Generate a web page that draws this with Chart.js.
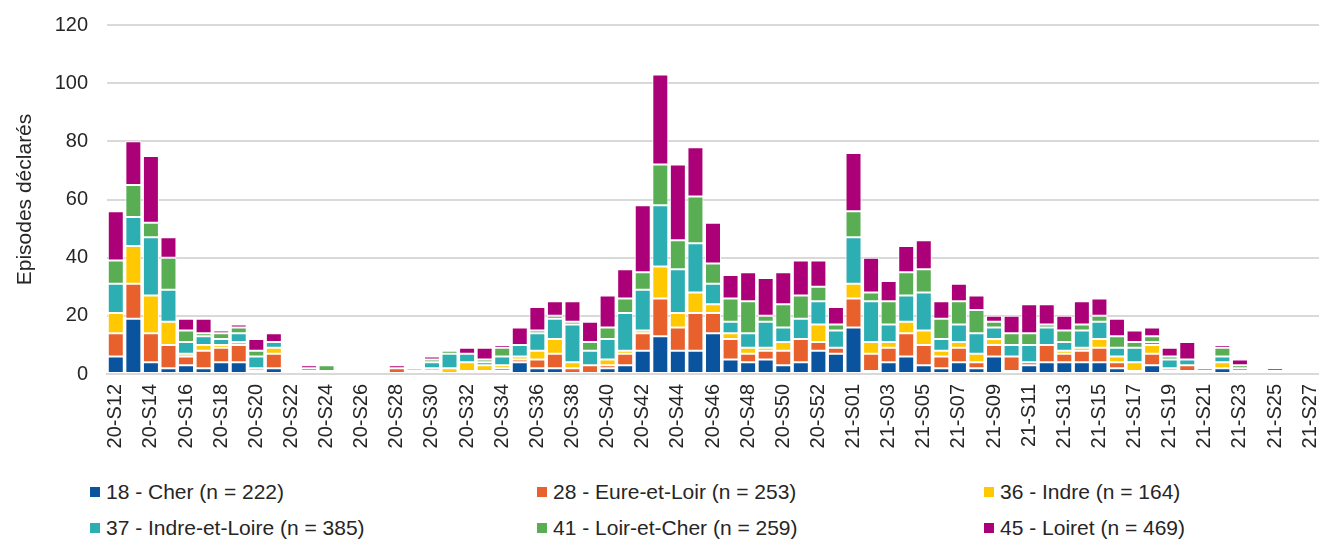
<!DOCTYPE html>
<html lang="fr">
<head>
<meta charset="utf-8">
<title>Episodes déclarés par semaine</title>
<script src="https://cdn.jsdelivr.net/npm/chart.js@4.4.1/dist/chart.umd.min.js"></script>
<style>
    html, body { margin: 0; padding: 0; background: #fff; }
    #wrap { position: relative; width: 1319px; height: 539px; overflow: hidden; }
    #chartBox { position: absolute; left: 0; top: 0; width: 1319px; height: 465px; }
    #legend {
        position: absolute; left: 90px; top: 480px;
        display: grid; grid-template-columns: 447px 447px 335px; row-gap: 12px;
        font-family: "Liberation Sans", Arial, sans-serif; font-size: 21px; color: #262626;
    }
    .item { display: flex; align-items: center; height: 24px; white-space: nowrap; }
    .box { width: 10px; height: 10px; margin-right: 6px; }
</style>
</head>
<body>
<div id="wrap">
    <div id="chartBox"><canvas id="weeklyChart"></canvas></div>
    <div id="legend"></div>
</div>
<script>
const weeks = [
    '20-S12', '20-S13', '20-S14', '20-S15', '20-S16', '20-S17', '20-S18', '20-S19', '20-S20', '20-S21',
    '20-S22', '20-S23', '20-S24', '20-S25', '20-S26', '20-S27', '20-S28', '20-S29', '20-S30', '20-S31',
    '20-S32', '20-S33', '20-S34', '20-S35', '20-S36', '20-S37', '20-S38', '20-S39', '20-S40', '20-S41',
    '20-S42', '20-S43', '20-S44', '20-S45', '20-S46', '20-S47', '20-S48', '20-S49', '20-S50', '20-S51',
    '20-S52', '20-S53', '21-S01', '21-S02', '21-S03', '21-S04', '21-S05', '21-S06', '21-S07', '21-S08',
    '21-S09', '21-S10', '21-S11', '21-S12', '21-S13', '21-S14', '21-S15', '21-S16', '21-S17', '21-S18',
    '21-S19', '21-S20', '21-S21', '21-S22', '21-S23', '21-S24', '21-S25', '21-S26', '21-S27'
];

const departments = [
    '18 - Cher (n = 222)',
    '28 - Eure-et-Loir (n = 253)',
    '36 - Indre (n = 164)',
    '37 - Indre-et-Loire (n = 385)',
    '41 - Loir-et-Cher (n = 259)',
    '45 - Loiret (n = 469)'
];

const cher = [
    6, 19, 4, 2, 3, 2, 4, 4, 0, 2, 0, 0, 0, 0, 1, 0, 0, 0, 1, 0,
    0, 0, 1, 4, 2, 2, 0, 0, 2, 3, 8, 13, 8, 8, 14, 5, 4, 5, 3, 4,
    8, 7, 16, 1, 4, 6, 3, 2, 4, 2, 6, 1, 3, 4, 4, 4, 4, 2, 0, 3,
    0, 1, 0, 2, 1, 0, 0, 0, 0
];
const eureEtLoir = [
    8, 12, 10, 8, 3, 6, 5, 6, 1, 5, 1, 0, 0, 0, 0, 0, 2, 1, 0, 0,
    1, 1, 1, 1, 3, 5, 2, 3, 1, 4, 6, 13, 8, 13, 7, 7, 3, 3, 5, 8,
    3, 2, 10, 6, 5, 8, 7, 4, 5, 2, 4, 5, 1, 6, 3, 4, 5, 2, 1, 4,
    1, 2, 0, 0, 0, 0, 0, 0, 0
];
const indre = [
    7, 13, 13, 8, 1, 2, 1, 1, 1, 2, 0, 1, 1, 0, 0, 1, 0, 1, 1, 2,
    3, 2, 1, 1, 3, 5, 2, 0, 2, 1, 1, 11, 5, 7, 3, 2, 2, 1, 3, 0,
    6, 0, 5, 4, 2, 4, 5, 2, 2, 3, 2, 0, 0, 0, 1, 1, 3, 2, 3, 3,
    1, 0, 1, 2, 0, 0, 1, 0, 0
];
const indreEtLoire = [
    10, 10, 20, 11, 4, 3, 2, 3, 4, 2, 0, 0, 0, 0, 0, 0, 0, 0, 2, 5,
    3, 1, 3, 4, 6, 7, 13, 5, 7, 13, 14, 21, 15, 17, 7, 4, 5, 9, 5, 7,
    8, 6, 16, 14, 6, 9, 13, 4, 6, 7, 4, 4, 6, 6, 3, 6, 6, 3, 5, 1,
    3, 2, 1, 2, 1, 1, 0, 0, 0
];
const loirEtCher = [
    8, 11, 5, 11, 4, 1, 2, 2, 2, 0, 0, 1, 2, 0, 0, 0, 0, 0, 1, 1,
    0, 1, 3, 0, 1, 1, 1, 3, 4, 5, 6, 14, 10, 16, 7, 8, 11, 2, 8, 8,
    5, 2, 9, 3, 8, 8, 8, 7, 8, 8, 2, 4, 4, 1, 4, 2, 2, 4, 2, 2,
    1, 0, 0, 3, 1, 0, 0, 0, 1
];
const loiret = [
    17, 15, 23, 7, 4, 5, 1, 1, 4, 3, 0, 1, 0, 0, 0, 0, 1, 0, 1, 0,
    2, 4, 1, 6, 8, 5, 7, 7, 11, 10, 23, 31, 26, 17, 14, 8, 10, 13, 11, 12,
    9, 6, 20, 12, 7, 9, 10, 6, 6, 5, 2, 6, 10, 7, 5, 8, 6, 6, 4, 3,
    3, 6, 0, 1, 2, 0, 1, 0, 0
];

const series = [cher, eureEtLoir, indre, indreEtLoire, loirEtCher, loiret];
const colors = ['#0a539e', '#e8602c', '#ffc800', '#2caeb2', '#59ad53', '#ab0078'];
const yTicks = [0, 20, 40, 60, 80, 100, 120];

const FONT = '"Liberation Sans", Arial, sans-serif';
const TEXT = '#262626';

document.addEventListener('DOMContentLoaded', () => {
    initChart();
    buildLegend();
});

function initChart() {
    const ctx = document.getElementById('weeklyChart');
    new Chart(ctx, {
        type: 'bar',
        data: {
            labels: weeks,
            datasets: series.map((values, i) => ({
                label: departments[i],
                data: values,
                backgroundColor: colors[i],
                borderColor: '#ffffff',
                borderWidth: 1,
                borderSkipped: false,
                categoryPercentage: 1,
                barPercentage: 0.91
            }))
        },
        options: {
            responsive: true,
            maintainAspectRatio: false,
            animation: false,
            layout: { padding: { top: 25, right: 0, left: 0, bottom: 0 } },
            plugins: {
                legend: { display: false },
                tooltip: { enabled: false }
            },
            scales: {
                x: {
                    stacked: true,
                    grid: { display: false, drawTicks: false },
                    border: { display: true, color: '#d9d9d9', width: 2 },
                    ticks: {
                        autoSkip: false,
                        minRotation: 90,
                        maxRotation: 90,
                        padding: 10,
                        color: TEXT,
                        font: { family: FONT, size: 20 },
                        // only every other week is labelled
                        callback: (value, index) => index % 2 === 0 ? weeks[index] : ''
                    },
                    afterFit: (scale) => {
                        scale.height = 91;
                        scale.paddingLeft = 0;
                        scale.paddingRight = 0;
                    }
                },
                y: {
                    stacked: true,
                    min: yTicks[0],
                    max: yTicks[yTicks.length - 1],
                    afterBuildTicks: (scale) => { scale.ticks = yTicks.map(v => ({ value: v })); },
                    grid: { color: '#d9d9d9', lineWidth: 2, drawTicks: false },
                    border: { display: false },
                    ticks: {
                        padding: 19,
                        color: TEXT,
                        font: { family: FONT, size: 20 }
                    },
                    title: {
                        display: true,
                        text: 'Episodes déclarés',
                        color: TEXT,
                        font: { family: FONT, size: 21 },
                        padding: { top: 13, bottom: 0 }
                    },
                    afterFit: (scale) => {
                        scale.width = 107;
                        scale.paddingTop = 0;
                        scale.paddingBottom = 0;
                    }
                }
            }
        }
    });
}

function buildLegend() {
    const legend = document.getElementById('legend');
    departments.forEach((name, i) => {
        const item = document.createElement('div');
        item.className = 'item';
        const box = document.createElement('span');
        box.className = 'box';
        box.style.background = colors[i];
        const label = document.createElement('span');
        label.textContent = name;
        item.appendChild(box);
        item.appendChild(label);
        legend.appendChild(item);
    });
}
</script>
</body>
</html>
